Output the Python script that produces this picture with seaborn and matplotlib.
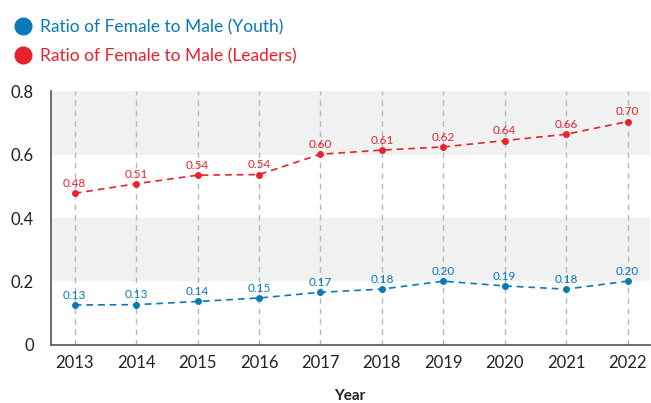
import pandas as pd
import matplotlib.pyplot as plt
import seaborn as sns
from matplotlib.lines import Line2D

years = [2013, 2014, 2015, 2016, 2017, 2018, 2019, 2020, 2021, 2022]
youth = [0.126, 0.127, 0.137, 0.148, 0.166, 0.176, 0.201, 0.186, 0.176, 0.201]
leaders = [0.478, 0.508, 0.535, 0.537, 0.601, 0.614, 0.624, 0.644, 0.664, 0.704]
series_names = ["Ratio of Female to Male (Youth)", "Ratio of Female to Male (Leaders)"]
colors = ["#0a78b9", "#e9212d"]

sns.set_theme(style="white")
plt.rcParams["font.family"] = ["Lato", "DejaVu Sans"]

df = pd.DataFrame({
    "Year": years * 2,
    "Ratio": youth + leaders,
    "Series": [series_names[0]] * len(years) + [series_names[1]] * len(years),
})

fig = plt.figure(figsize=(6.51, 4.03), dpi=100)
ax = fig.add_axes([0.078, 0.144, 0.92, 0.63])

# background bands
for lo, hi in [(0.2, 0.4), (0.6, 0.8)]:
    ax.axhspan(lo, hi, color="#f0f1f1", zorder=0, lw=0)
for yr in years:
    ax.axvline(yr, color="#b8b8b8", lw=1, ls=(0, (4, 3.5)), zorder=1)

sns.lineplot(data=df, x="Year", y="Ratio", hue="Series", palette=colors,
             marker="o", markersize=5, markeredgewidth=0, lw=1.2,
             dashes=False, legend=False, ax=ax, zorder=3)
for line in ax.get_lines()[-2:]:
    line.set_linestyle((0, (4, 3)))

for vals, c in zip([youth, leaders], colors):
    for x, v in zip(years, vals):
        ax.annotate(f"{v:.2f}", (x, v), xytext=(0, 3), textcoords="offset points",
                    ha="center", va="bottom", fontsize=8.5, color=c)

ax.set_xlim(2012.61, 2022.36)
ax.set_ylim(0, 0.8)
ax.set_xticks(years)
ax.set_xticklabels([str(y) for y in years])
ax.set_yticks([0, 0.2, 0.4, 0.6, 0.8])
ax.set_yticklabels(["0", "0.2", "0.4", "0.6", "0.8"])
ax.tick_params(axis="both", length=0, labelsize=12, colors="#222222")
ax.tick_params(axis="y", pad=12)
ax.tick_params(axis="x", pad=7)
ax.set_xlabel("Year", fontsize=11, fontweight="bold", color="#222222", labelpad=13)
ax.set_ylabel("")
for s in ["top", "right"]:
    ax.spines[s].set_visible(False)
for s in ["left", "bottom"]:
    ax.spines[s].set_color("#555555")
    ax.spines[s].set_linewidth(1.2)

handles = [Line2D([], [], marker="o", ls="", color=c, markersize=12) for c in colors]
leg = fig.legend(handles, series_names, loc="upper left", bbox_to_anchor=(-0.008, 0.992),
                 frameon=False, fontsize=12.5, handletextpad=0.3, labelspacing=0.75,
                 borderaxespad=0.5, handlelength=1.4)
for t, c in zip(leg.get_texts(), colors):
    t.set_color(c)

fig.savefig("out.png", dpi=100)
